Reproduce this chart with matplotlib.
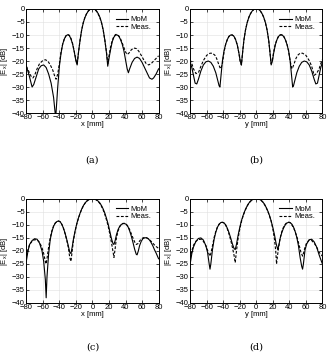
import numpy as np
from matplotlib import pyplot as plt

plt.rcParams['font.family'] = ['Liberation Sans', 'DejaVu Sans']
plt.rcParams['mathtext.fontset'] = 'custom'
plt.rcParams['mathtext.rm'] = 'Liberation Sans'
plt.rcParams['mathtext.it'] = 'Liberation Sans'

# panel (a): x-cut
xa_mom = [-80, -77, -75, -73, -71, -68, -65, -62, -59, -56, -53, -50, -47, -44.5, -42, -40, -38, -36, -34, -32, -30, -28, -26, -24, -22, -20, -18.5, -17, -15, -13, -11, -9, -7, -5, -3, 0,
          3, 5, 7, 9, 11, 13, 15, 17, 18.5, 20, 22, 24, 26, 28, 30, 32, 34, 36, 38, 40, 42, 43.5, 45, 48, 51, 54, 57, 60, 63, 66, 69, 72, 74, 77, 80]
ya_mom = [-22, -25, -27.5, -30, -29, -26, -23, -21.8, -21.5, -22.5, -25, -28.5, -34, -42, -30, -22, -17, -13.5, -11.5, -10.3, -9.9, -10.2, -11.5, -13.5, -16.5, -20, -21.5, -17, -12, -8, -5.2, -3.2, -1.8, -0.8, -0.2, 0,
          -0.2, -0.8, -1.8, -3.2, -5.2, -8, -12, -17, -22, -19, -15.5, -12.5, -10.8, -10, -10, -10.5, -11.8, -13.5, -16, -19.5, -23, -24.5, -23, -20.5, -19, -18.5, -19, -20.5, -22.5, -24.5, -26.5, -27, -26.5, -25, -23]
xa_meas = [-80, -77, -74, -72, -70, -67, -64, -60, -57, -54, -51, -48, -46, -44, -42, -40, -38, -36, -34, -32, -30, -28, -26, -24, -22, -20, -18.5, -17, -15, -13, -11, -9, -7, -5, -3, 0,
           3, 5, 7, 9, 11, 13, 15, 17, 18.5, 20, 22, 24, 26, 28, 30, 32, 34, 36, 38, 40, 42, 44, 47, 50, 53, 56, 59, 62, 65, 68, 71, 74, 77, 80]
ya_meas = [-22, -24, -26, -26.5, -25.5, -23, -21, -19.8, -19.5, -20, -21.5, -23.5, -25.5, -27, -25, -21, -16.5, -13.5, -11.5, -10.3, -9.8, -10.1, -11.3, -13.3, -16.3, -19.5, -21, -17, -12, -8, -5.1, -3.1, -1.7, -0.7, -0.2, 0,
           -0.3, -0.9, -2, -3.4, -5.4, -8.2, -12, -16.5, -21, -18, -14.5, -12, -10.5, -9.8, -9.8, -10.4, -11.5, -13, -14.8, -16.5, -17.5, -17, -15.7, -15, -15.2, -16.2, -17.8, -19.5, -21, -21.5, -21, -20, -19, -18]

# panel (b): y-cut
xb_mom = [-80, -78, -76, -74, -72, -70, -67, -64, -61, -58, -55, -52, -49, -47, -45, -44, -42.5, -41, -39, -37, -35, -33, -31, -29, -27, -25, -23, -21, -19.5, -18, -16.5, -15, -13, -11, -9, -7, -5, -3, 0,
          3, 5, 7, 9, 11, 13, 15, 16.5, 18, 19.5, 21, 23, 25, 27, 29, 31, 33, 35, 37, 39, 41, 42.5, 44, 45, 47, 49, 52, 55, 58, 61, 64, 67, 70, 72, 74, 76, 78, 80]
yb_mom = [-20.5, -22.5, -25.5, -28.5, -28.8, -27, -23.8, -21.5, -20.3, -20, -20.5, -22, -24.5, -27, -29.5, -30, -25, -20, -16, -13.5, -11.7, -10.5, -10, -10, -10.5, -11.8, -13.8, -17, -20, -21.5, -16.5, -12, -8, -5.2, -3.2, -1.8, -0.8, -0.2, 0,
          -0.2, -0.8, -1.8, -3.2, -5.2, -8, -12, -16.5, -21.5, -20, -17, -13.8, -11.8, -10.5, -10, -10, -10.5, -11.7, -13.5, -16, -20, -25, -30, -29.5, -27, -24.5, -22, -20.5, -20, -20.3, -21.5, -23.8, -27, -28.8, -28.5, -25.5, -22.5, -20.5]
xb_meas = [-80, -78, -76, -73, -70, -67, -64, -60, -56, -53, -50, -48, -46, -44, -43, -41, -39, -37, -35, -33, -31, -29, -27, -25, -23, -21, -19.5, -18, -16.5, -15, -13, -11, -9, -7, -5, -3, 0,
           3, 5, 7, 9, 11, 13, 15, 16.5, 18, 19.5, 21, 23, 25, 27, 29, 31, 33, 35, 37, 39, 41, 43, 44, 46, 48, 50, 53, 56, 60, 64, 67, 70, 73, 76, 78, 80]
yb_meas = [-19.5, -21, -23, -24.8, -24.5, -22, -19.8, -17.8, -17, -17, -17.8, -19, -20.8, -22.5, -23, -21, -16.5, -13.5, -11.7, -10.5, -10, -10, -10.5, -11.8, -13.8, -17, -20, -21.5, -16.5, -12, -8, -5.2, -3.2, -1.8, -0.8, -0.2, 0,
           -0.2, -0.8, -1.8, -3.2, -5.2, -8, -12, -16.5, -21, -19.5, -16.5, -13.5, -11.7, -10.4, -9.9, -9.9, -10.4, -11.6, -13.3, -16, -20, -23, -22.5, -20.8, -19, -17.8, -17, -17, -17.8, -19.8, -22, -25.5, -24.8, -23, -21, -19.5]

# panel (c): x-cut
xc_mom = [-80, -78, -76, -73, -70, -67, -64, -61, -59, -57, -56, -55, -53, -51, -49, -47, -45, -43, -41, -39, -37, -35, -33, -31, -29, -27.5, -26, -24.5, -23, -21, -19, -17, -15, -13, -11, -9, -7, -5, -3, 0,
          3, 5, 7, 9, 11, 13, 15, 17, 19, 21, 23, 25, 26, 27.5, 29, 31, 33, 35, 37, 39, 41, 43, 45, 47, 49, 51, 53, 54, 55.5, 57, 59, 61, 63, 65, 67, 69, 71, 73, 75, 77, 80]
yc_mom = [-24, -20, -17.5, -16, -15.3, -15.5, -17, -20, -24, -31, -38, -30, -21, -15.5, -12.5, -10.5, -9.3, -8.7, -8.5, -8.8, -9.8, -11.3, -13.3, -15.7, -18.3, -20.5, -21, -18.5, -15.5, -12.3, -9.6, -7.4, -5.5, -3.9, -2.6, -1.6, -0.9, -0.4, -0.1, 0,
          -0.1, -0.4, -0.9, -1.6, -2.6, -3.9, -5.5, -7.5, -9.7, -12.5, -15.3, -17.3, -17.5, -16, -13.8, -11.8, -10.5, -9.8, -9.5, -9.5, -9.8, -10.7, -12.3, -14.3, -16.7, -19.3, -21.3, -21.5, -20, -18, -16.3, -15.3, -15, -14.9, -15.2, -15.8, -16.8, -18, -19.5, -20.8, -23]
xc_meas = [-80, -78, -76, -73, -70, -67, -64, -61, -59, -57, -56, -55, -53, -51, -49, -47, -45, -43, -41, -39, -37, -35, -33, -31, -29, -27.5, -26, -24.5, -23, -21, -19, -17, -15, -13, -11, -9, -7, -5, -3, 0,
           3, 5, 7, 9, 11, 13, 15, 17, 19, 21, 23, 25, 26, 27.5, 29, 31, 33, 35, 37, 39, 41, 43, 45, 47, 49, 51, 53, 55, 57, 59, 61, 63, 65, 67, 69, 71, 73, 75, 77, 80]
yc_meas = [-22, -19.5, -17.5, -16.3, -15.7, -15.7, -16.7, -18.8, -21, -24, -25, -23, -18.5, -14.8, -12.2, -10.4, -9.3, -8.7, -8.5, -8.8, -9.8, -11.4, -13.5, -16, -19, -22.5, -24, -20, -16, -12.5, -9.7, -7.5, -5.6, -4, -2.7, -1.7, -0.9, -0.4, -0.1, 0,
           -0.1, -0.5, -1, -1.8, -2.9, -4.3, -6, -8.1, -10.5, -13.5, -16.8, -20.5, -22.5, -19, -15, -12.3, -10.7, -9.8, -9.4, -9.4, -9.8, -10.6, -11.8, -13.4, -15, -16.5, -17.5, -17.2, -16.2, -15.4, -15, -14.8, -14.9, -15.2, -15.7, -16.3, -17, -17.7, -18.3, -19]

# panel (d): y-cut
xd_mom = [-80, -78, -76, -73, -70, -67, -64, -61, -59, -57, -56, -55, -53, -51, -49, -47, -45, -43, -41, -39, -37, -35, -33, -31, -29, -27, -25.5, -24, -22, -20, -18, -16, -14, -12, -10, -8, -6, -4, -2, 0,
          2, 4, 6, 8, 10, 12, 14, 16, 18, 20, 22, 24, 26, 27.5, 29, 31, 33, 35, 37, 39, 41, 43, 45, 47, 49, 51, 53, 55, 56, 57, 59, 61, 64, 67, 70, 73, 76, 78, 80]
yd_mom = [-25, -21, -18.5, -16.3, -15.2, -15, -15.8, -18, -20.5, -25, -27, -25, -19.5, -15.5, -12.8, -10.9, -9.8, -9.1, -9, -9.2, -10, -11.3, -13, -15, -17.2, -19, -19.5, -17.5, -14, -11, -8.4, -6.4, -4.7, -3.3, -2.1, -1.2, -0.6, -0.2, 0, 0,
          0, -0.2, -0.6, -1.2, -2.1, -3.3, -4.7, -6.4, -8.5, -11, -13.8, -17.2, -19.5, -17.5, -15, -12.8, -11.2, -10, -9.3, -9, -9.1, -9.7, -10.8, -12.5, -14.8, -18, -22.5, -26, -27, -25, -19.5, -17.3, -15.7, -15.5, -16.5, -18.5, -21.5, -23.3, -25]
xd_meas = [-80, -78, -76, -73, -70, -67, -64, -61, -59, -57, -56, -55, -53, -51, -49, -47, -45, -43, -41, -39, -37, -35, -33, -31, -29, -27, -25.5, -24, -22, -20, -18, -16, -14, -12, -10, -8, -6, -4, -2, 0,
           2, 4, 6, 8, 10, 12, 14, 16, 18, 20, 22, 23.5, 24.5, 26, 28, 30, 32, 34, 36, 38, 40, 42, 44, 46, 48, 50, 52, 54, 56, 57, 59, 61, 64, 67, 70, 73, 76, 78, 80]
yd_meas = [-23, -20, -17.8, -16.3, -15.6, -15.5, -16.3, -18, -19.7, -21.3, -22, -21, -18, -14.8, -12.5, -10.8, -9.7, -9.1, -9, -9.3, -10.1, -11.6, -13.5, -15.8, -18.5, -21.5, -24.5, -20, -15.2, -11.6, -8.8, -6.6, -4.8, -3.4, -2.2, -1.3, -0.6, -0.2, 0, 0,
           0, -0.2, -0.6, -1.3, -2.2, -3.4, -4.8, -6.6, -8.6, -11.5, -15.5, -20, -25, -21, -16.5, -13.5, -11.5, -10.2, -9.4, -9, -9, -9.5, -10.5, -11.8, -13.5, -15.5, -18, -20.5, -22, -21, -18.5, -16.8, -15.8, -16, -17, -18.5, -20.5, -21.3, -22]

panels = [
    ("(a)", "x [mm]", xa_mom, ya_mom, xa_meas, ya_meas),
    ("(b)", "y [mm]", xb_mom, yb_mom, xb_meas, yb_meas),
    ("(c)", "x [mm]", xc_mom, yc_mom, xc_meas, yc_meas),
    ("(d)", "y [mm]", xd_mom, yd_mom, xd_meas, yd_meas),
]

fig = plt.figure(figsize=(3.29, 3.59), dpi=100)
lefts = [0.080, 0.578, 0.080, 0.578]
bottoms = [0.685, 0.685, 0.156, 0.156]
w, h = 0.402, 0.290
label_y = [0.554, 0.554, 0.033, 0.033]
fs = 5.5

for i, (tag, xl, xm, ym, xs, ys) in enumerate(panels):
    ax = fig.add_axes([lefts[i], bottoms[i], w, h])
    ax.plot(xm, ym, 'k-', lw=0.8, label='MoM')
    ax.plot(xs, ys, 'k--', lw=0.8, dashes=(2.5, 1.5), label='Meas.')
    ax.set_xlim(-80, 80)
    ax.set_ylim(-40, 0)
    ax.set_xticks(np.arange(-80, 81, 20))
    ax.set_yticks(np.arange(-40, 1, 5))
    ax.grid(True, color='#e0e0e0', lw=0.4)
    ax.tick_params(direction='in', top=True, right=True, labelsize=fs, length=2, width=0.5, pad=1)
    for s in ax.spines.values():
        s.set_linewidth(0.7)
    ax.set_xlabel(xl, fontsize=fs, labelpad=0)
    ax.set_ylabel('|E$_x$| [dB]', fontsize=fs)
    ax.yaxis.set_label_coords(-0.125, 0.5)
    ax.legend(loc='upper right', fontsize=fs, frameon=False, handlelength=1.6,
              borderaxespad=0.5, labelspacing=0.0, handletextpad=0.4)
    fig.text(lefts[i] + w / 2, label_y[i], tag, ha='center', va='center',
             fontsize=7, family='serif')

fig.savefig('out.png', dpi=100)
